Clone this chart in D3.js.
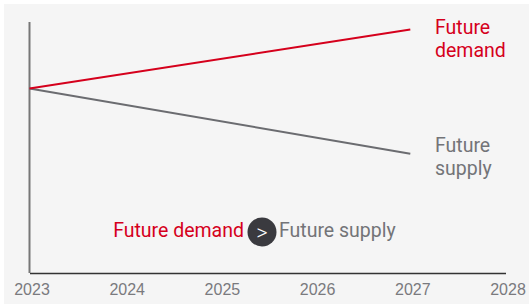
<!DOCTYPE html>
<html>
<head>
<meta charset="utf-8">
<script src="https://cdn.jsdelivr.net/npm/d3@7"></script>
<style>
  html, body { margin: 0; padding: 0; background: #fff; }
  svg { display: block; font-family: Roboto, "Liberation Sans", sans-serif; }
</style>
</head>
<body>
<div id="chart"></div>
<script>
// data
var years = [2023, 2024, 2025, 2026, 2027, 2028];
var demandYears = [2023, 2027];
var demandValues = [73.5, 97];
var supplyYears = [2023, 2027];
var supplyValues = [73.5, 47.5];
var seriesNames = ["Future demand", "Future supply"];

var width = 529, height = 304;
var red = "#d5001c", grey = "#737478";

var svg = d3.select("#chart").append("svg")
  .attr("width", width)
  .attr("height", height);

// panel background
svg.append("rect")
  .attr("x", 4).attr("y", 4)
  .attr("width", width - 4).attr("height", height - 4)
  .attr("fill", "#f5f5f5");

var x = d3.scaleLinear().domain([2023, 2028]).range([29.5, 505.5]);
var y = d3.scaleLinear().domain([0, 100]).range([273, 22]);

// x axis
var xAxis = svg.append("g")
  .attr("transform", "translate(0," + y(0) + ")")
  .call(d3.axisBottom(x).tickValues(years).tickFormat(d3.format("d")).tickSize(0).tickPadding(11));
xAxis.select(".domain").attr("stroke", "#333").attr("stroke-width", 1.5);
xAxis.selectAll("text")
  .attr("fill", "#7a7a7e")
  .style("font-size", "16px")
  .attr("dx", 2);

// y axis (line only)
svg.append("line")
  .attr("x1", x(2023)).attr("x2", x(2023))
  .attr("y1", y(100)).attr("y2", y(0))
  .attr("stroke", "#777")
  .attr("stroke-width", 2);

var line = d3.line()
  .x(function(d) { return x(d[0]); })
  .y(function(d) { return y(d[1]); });

var series = [
  { name: seriesNames[1], pts: d3.zip(supplyYears, supplyValues), color: "#6b6c70", dy: -2 },
  { name: seriesNames[0], pts: d3.zip(demandYears, demandValues), color: red, dy: 4 }
];

svg.selectAll("path.series")
  .data(series).enter()
  .append("path")
  .attr("class", "series")
  .attr("d", function(d) { return line(d.pts); })
  .attr("fill", "none")
  .attr("stroke", function(d) { return d.color; })
  .attr("stroke-width", 2);

// end labels, two lines each
series.forEach(function(s) {
  var last = s.pts[s.pts.length - 1];
  var t = svg.append("text")
    .attr("x", 435)
    .attr("y", y(last[1]) + s.dy)
    .attr("fill", s.color === red ? red : grey)
    .style("font-size", "19.5px");
  var words = s.name.split(" ");
  t.append("tspan").attr("x", 435).attr("dy", 0).text(words[0]);
  t.append("tspan").attr("x", 435).attr("dy", 23).text(words[1]);
});

// "Future demand > Future supply" note
var note = svg.append("g");
note.append("text")
  .attr("x", 244).attr("y", 236.5)
  .attr("text-anchor", "end")
  .attr("fill", red)
  .style("font-size", "19.5px")
  .text(seriesNames[0]);
note.append("circle")
  .attr("cx", 262).attr("cy", 232).attr("r", 14.5)
  .attr("fill", "#3a3a3f");
note.append("text")
  .attr("x", 262).attr("y", 239.5)
  .attr("text-anchor", "middle")
  .attr("fill", "#fff")
  .style("font-size", "22px")
  .style("font-weight", 300)
  .text(">");
note.append("text")
  .attr("x", 279).attr("y", 236.5)
  .attr("fill", grey)
  .style("font-size", "19.5px")
  .text(seriesNames[1]);
</script>
</body>
</html>
